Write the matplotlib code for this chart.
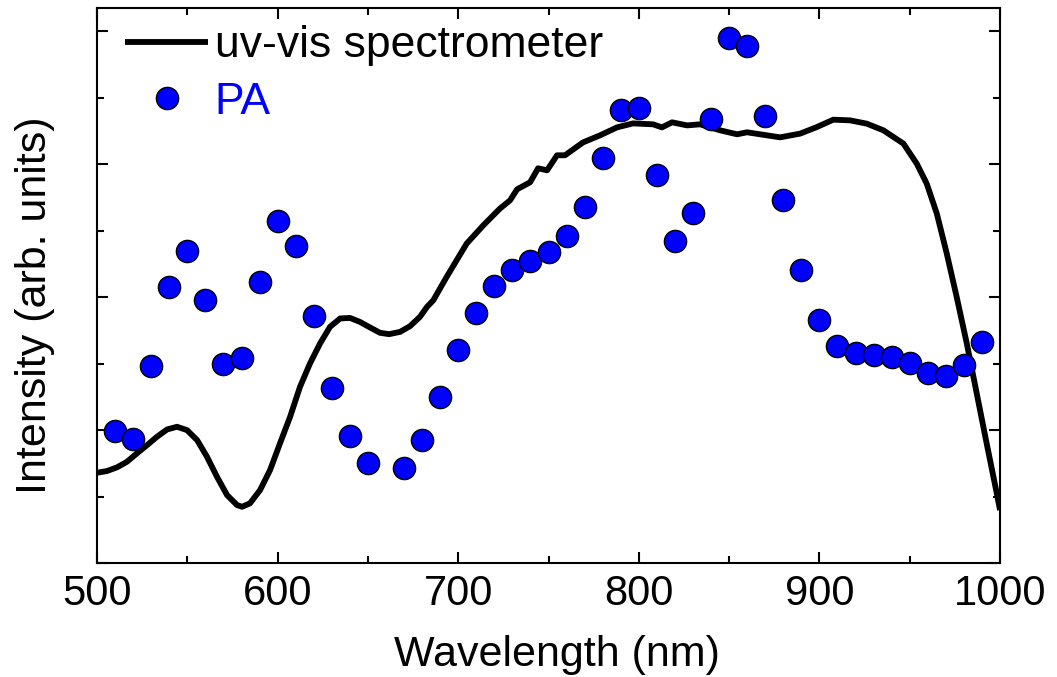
import matplotlib
matplotlib.use("Agg")
import matplotlib.pyplot as plt
from matplotlib.ticker import MultipleLocator, NullFormatter

plt.rcParams["font.family"] = ["Liberation Sans", "DejaVu Sans"]

# uv-vis absorption spectrum (arb. units)
uv_wl = [500.0, 505.5, 511.1, 516.6, 522.1, 527.7, 533.2, 538.8, 544.3, 549.8,
         555.4, 560.9, 566.4, 572.0, 577.5, 580.3, 584.7, 590.3, 595.8, 601.3,
         606.9, 612.4, 617.9, 623.5, 629.0, 634.6, 640.1, 645.6, 651.2, 656.7,
         661.7, 667.8, 673.3, 678.8, 682.7, 686.2, 693.6, 704.7, 713.9, 723.1,
         728.7, 732.6, 739.8, 744.2, 749.2, 754.7, 759.1, 769.1, 778.5, 787.9,
         796.8, 807.9, 812.8, 818.4, 826.7, 833.9, 845.0, 854.4, 859.9, 878.2,
         889.3, 898.5, 907.7, 916.9, 926.2, 935.4, 946.5, 953.9, 959.4, 965.0,
         970.5, 976.0, 981.6, 987.1, 992.6, 998.2, 1000.0]
uv_int = [0.679, 0.692, 0.720, 0.762, 0.825, 0.887, 0.950, 1.005, 1.025, 1.000,
          0.925, 0.799, 0.649, 0.511, 0.436, 0.423, 0.449, 0.549, 0.699, 0.900,
          1.100, 1.326, 1.501, 1.652, 1.777, 1.840, 1.844, 1.814, 1.772, 1.732,
          1.722, 1.739, 1.782, 1.852, 1.927, 1.977, 2.153, 2.404, 2.541, 2.667,
          2.729, 2.812, 2.865, 2.970, 2.955, 3.068, 3.068, 3.165, 3.218, 3.278,
          3.308, 3.301, 3.278, 3.316, 3.293, 3.301, 3.256, 3.226, 3.241, 3.203,
          3.231, 3.280, 3.336, 3.331, 3.306, 3.256, 3.156, 3.005, 2.855, 2.629,
          2.329, 2.002, 1.652, 1.276, 0.900, 0.524, 0.398]

# photoacoustic signal
pa_wl = [510, 520, 530, 540, 550, 560, 570, 580, 590, 600, 610, 620, 630, 640,
         650, 670, 680, 690, 700, 710, 720, 730, 740, 750, 760, 770, 780, 790,
         800, 810, 820, 830, 840, 850, 860, 870, 880, 890, 900, 910, 920, 930,
         940, 950, 960, 970, 980, 990]
pa_int = [0.992, 0.932, 1.481, 2.075, 2.346, 1.977, 1.496, 1.541, 2.113, 2.571,
          2.383, 1.857, 1.316, 0.955, 0.752, 0.714, 0.925, 1.248, 1.602, 1.880,
          2.083, 2.203, 2.271, 2.338, 2.459, 2.677, 3.045, 3.406, 3.421, 2.917,
          2.421, 2.632, 3.338, 3.947, 3.887, 3.361, 2.729, 2.203, 1.827, 1.632,
          1.579, 1.564, 1.549, 1.504, 1.429, 1.406, 1.489, 1.662]

fig = plt.figure(figsize=(10.57, 6.77), dpi=100)
ax = fig.add_axes([0.0918, 0.1684, 0.8543, 0.8205])

ax.plot(uv_wl, uv_int, color="black", lw=4.2, solid_joinstyle="round",
        solid_capstyle="butt", label="uv-vis spectrometer", zorder=2)
ax.plot(pa_wl, pa_int, "o", ms=16, mfc="#0000ff", mec="black", mew=1.0,
        label="PA", zorder=3)

ax.set_xlim(500, 1000)
ax.set_ylim(0, 4.18)
ax.xaxis.set_major_locator(MultipleLocator(100))
ax.xaxis.set_minor_locator(MultipleLocator(50))
ax.yaxis.set_major_locator(MultipleLocator(1))
ax.yaxis.set_minor_locator(MultipleLocator(0.5))
ax.yaxis.set_major_formatter(NullFormatter())

ax.tick_params(which="both", direction="in", top=True, right=True, width=1.5)
ax.tick_params(which="major", length=8, labelsize=30, pad=8)
ax.tick_params(which="minor", length=5)
for sp in ax.spines.values():
    sp.set_linewidth(1.5)

ax.set_xlabel("Wavelength (nm)", fontsize=31)
ax.set_ylabel("Intensity (arb. units)", fontsize=31)
ax.xaxis.set_label_coords(0.509, -0.13)
ax.yaxis.set_label_coords(-0.047, 0.464)

leg = ax.legend(loc="upper left", bbox_to_anchor=(0.031, 0.968), frameon=False,
                fontsize=32, handlelength=1.87, handletextpad=0.15,
                labelspacing=0.345, borderpad=0, borderaxespad=0)
leg.get_texts()[1].set_color("#0000ff")

fig.savefig("out.png", dpi=100)
